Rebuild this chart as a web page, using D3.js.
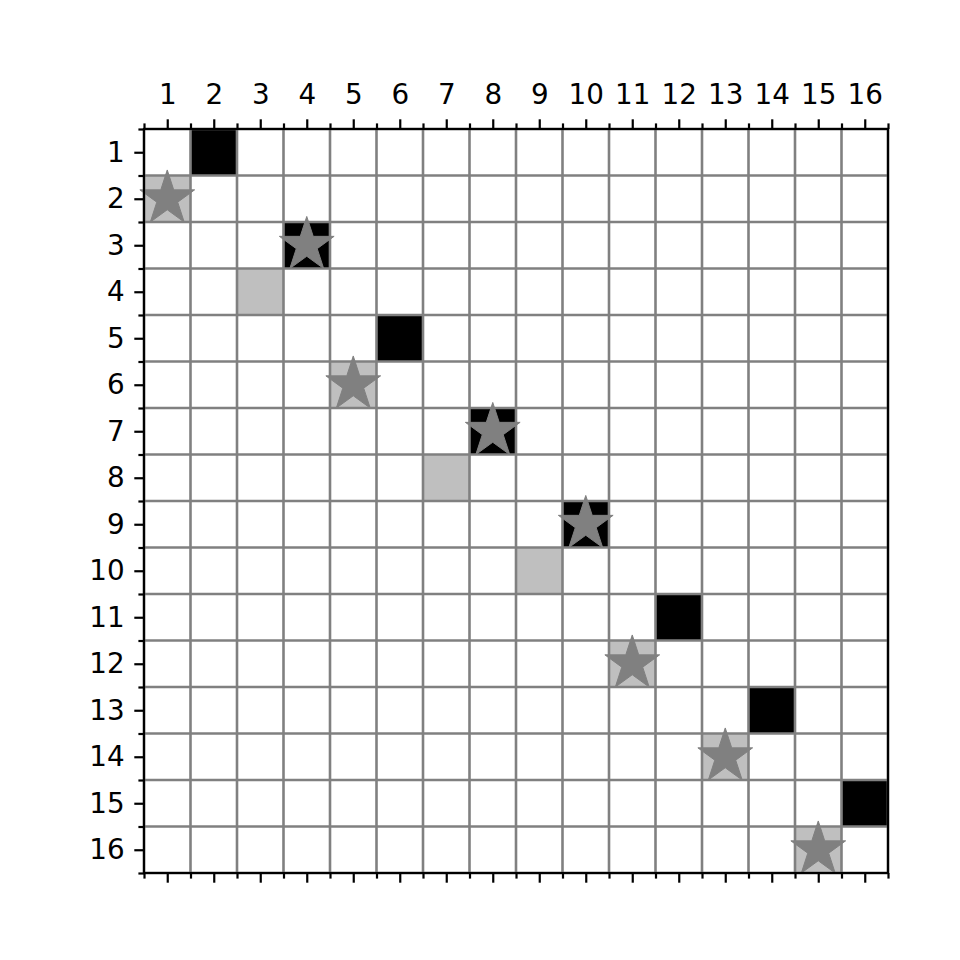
<!DOCTYPE html>
<html>
<head>
<meta charset="utf-8">
<script src="https://cdn.jsdelivr.net/npm/d3@7"></script>
<style>
  html, body { margin: 0; padding: 0; background: #fff; }
  svg { display: block; }
  text { font-family: "DejaVu Sans", sans-serif; }
</style>
</head>
<body>
<div id="chart"></div>
<script>
// ---- data ----
const colLabels = d3.range(1, 17);          // 1..16
const rowLabels = d3.range(1, 17);          // 1..16
// filled cells as [row, col]
const blackCells = [[1,2],[3,4],[5,6],[7,8],[9,10],[11,12],[13,14],[15,16]];
const grayCells  = [[2,1],[4,3],[6,5],[8,7],[10,9],[12,11],[14,13],[16,15]];
// star markers as [row, col]
const starCells  = [[2,1],[3,4],[6,5],[7,8],[9,10],[12,11],[14,13],[16,15]];

(function () {
const W = 960, H = 960;
const mL = 144, mR = 888, mT = 129, mB = 873;
const majorLen = 9.7, minorLen = 5.6, pad = 9.7, fs = 27.8;

const svg = d3.select("#chart").append("svg").attr("width", W).attr("height", H);
svg.append("rect").attr("width", W).attr("height", H).attr("fill", "#fff");

const x = d3.scaleLinear().domain([0.5, 16.5]).range([mL, mR]);
const y = d3.scaleLinear().domain([0.5, 16.5]).range([mT, mB]);
const minorVals = d3.range(0.5, 17, 1);

// cells
svg.append("g").selectAll("rect").data(blackCells).join("rect")
  .attr("x", d => x(d[1] - 0.5)).attr("y", d => y(d[0] - 0.5))
  .attr("width", x(1.5) - x(0.5)).attr("height", y(1.5) - y(0.5))
  .attr("fill", "#000");
svg.append("g").selectAll("rect").data(grayCells).join("rect")
  .attr("x", d => x(d[1] - 0.5)).attr("y", d => y(d[0] - 0.5))
  .attr("width", x(1.5) - x(0.5)).attr("height", y(1.5) - y(0.5))
  .attr("fill", "#bfbfbf");

// grid at cell boundaries
const grid = svg.append("g").attr("stroke", "#808080").attr("stroke-width", 2.6);
grid.selectAll("line.v").data(minorVals).join("line").attr("class", "v")
  .attr("x1", d => x(d)).attr("x2", d => x(d)).attr("y1", mT).attr("y2", mB);
grid.selectAll("line.h").data(minorVals).join("line").attr("class", "h")
  .attr("y1", d => y(d)).attr("y2", d => y(d)).attr("x1", mL).attr("x2", mR);

// stars
function starPath(R) {
  const pts = [];
  const r = R * 0.381966;
  for (let i = 0; i < 10; i++) {
    const a = -Math.PI / 2 + i * Math.PI / 5;
    const rr = i % 2 === 0 ? R : r;
    pts.push([rr * Math.cos(a), rr * Math.sin(a)]);
  }
  return "M" + pts.map(p => p.join(",")).join("L") + "Z";
}
svg.append("g").selectAll("path").data(starCells).join("path")
  .attr("transform", d => `translate(${x(d[1])},${y(d[0])})`)
  .attr("d", starPath(28.8))
  .attr("fill", "#808080").attr("stroke", "#808080").attr("stroke-width", 1);

// axes
const axTop = d3.axisTop(x).tickValues(colLabels).tickFormat(d3.format("d"))
  .tickSizeInner(majorLen).tickSizeOuter(0).tickPadding(pad);
const axLeft = d3.axisLeft(y).tickValues(rowLabels).tickFormat(d3.format("d"))
  .tickSizeInner(majorLen).tickSizeOuter(0).tickPadding(pad);
const axBottom = d3.axisBottom(x).tickValues(colLabels).tickFormat("")
  .tickSizeInner(majorLen).tickSizeOuter(0);
const minTop = d3.axisTop(x).tickValues(minorVals).tickFormat("").tickSizeInner(minorLen).tickSizeOuter(0);
const minLeft = d3.axisLeft(y).tickValues(minorVals).tickFormat("").tickSizeInner(minorLen).tickSizeOuter(0);
const minBottom = d3.axisBottom(x).tickValues(minorVals).tickFormat("").tickSizeInner(minorLen).tickSizeOuter(0);

function style(g) {
  g.select(".domain").remove();
  g.selectAll(".tick line").attr("stroke", "#000").attr("stroke-width", 2.2);
  g.selectAll(".tick text").attr("fill", "#000").style("font-size", fs + "px")
    .style("font-family", "'DejaVu Sans', sans-serif");
}
svg.append("g").attr("transform", `translate(0,${mT})`).call(axTop).call(style)
  .selectAll(".tick text").attr("dy", "-0.21em");
svg.append("g").attr("transform", `translate(${mL},0)`).call(axLeft).call(style);
svg.append("g").attr("transform", `translate(0,${mB})`).call(axBottom).call(style);
svg.append("g").attr("transform", `translate(0,${mT})`).call(minTop).call(style);
svg.append("g").attr("transform", `translate(${mL},0)`).call(minLeft).call(style);
svg.append("g").attr("transform", `translate(0,${mB})`).call(minBottom).call(style);

// spines
svg.append("rect").attr("x", mL).attr("y", mT)
  .attr("width", mR - mL).attr("height", mB - mT)
  .attr("fill", "none").attr("stroke", "#000").attr("stroke-width", 2.2);
})();
</script>
</body>
</html>
